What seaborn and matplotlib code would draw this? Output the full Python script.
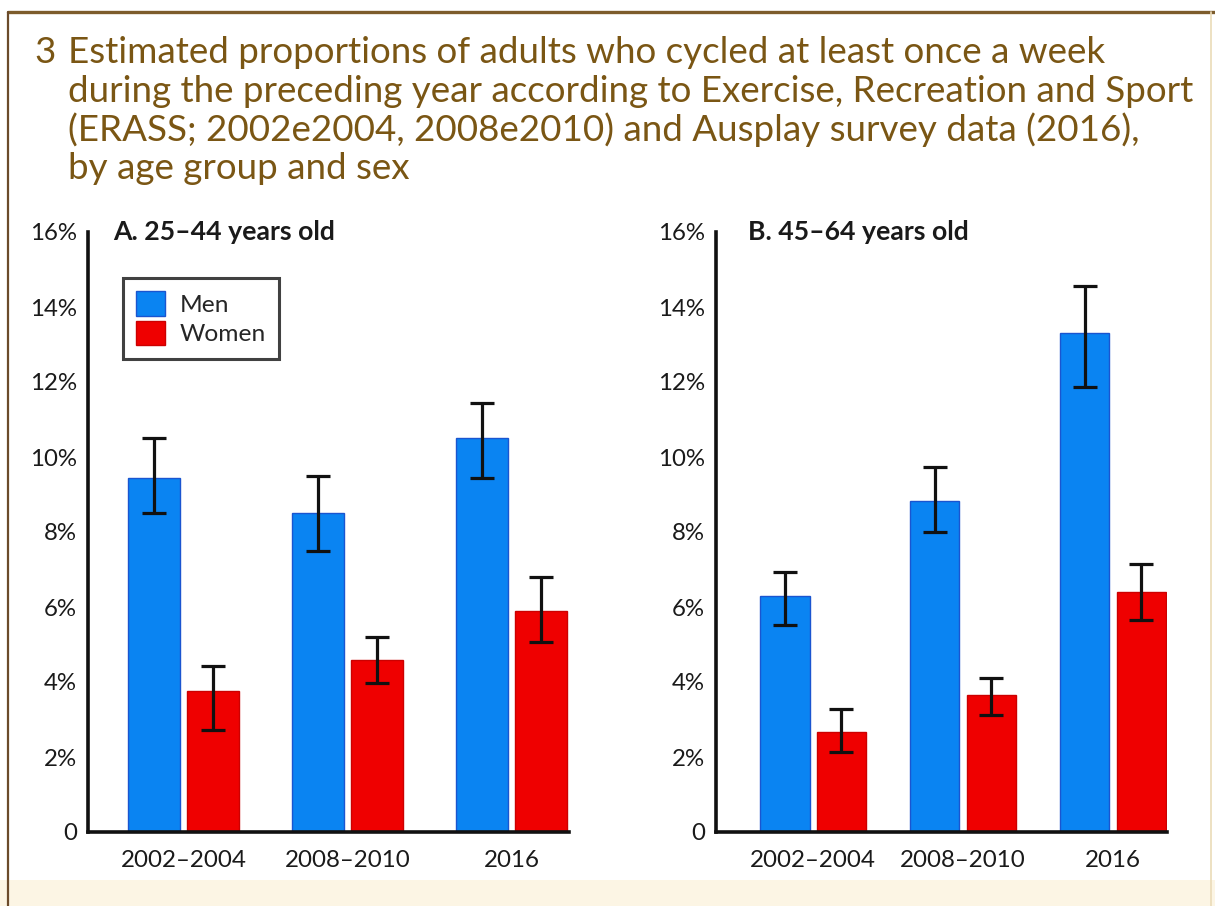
import matplotlib
matplotlib.use("Agg")
import matplotlib.pyplot as plt
import seaborn as sns
import pandas as pd
from matplotlib import font_manager as fm
from matplotlib.patches import Rectangle, Patch
from matplotlib.lines import Line2D
from matplotlib.container import BarContainer

# ---------------- data ----------------
periods = ["2002–2004", "2008–2010", "2016"]
sexes = ["Men", "Women"]

a_men = [9.45, 8.5, 10.5]
a_men_lo = [8.5, 7.5, 9.45]
a_men_hi = [10.5, 9.5, 11.45]
a_women = [3.75, 4.6, 5.9]
a_women_lo = [2.72, 3.97, 5.07]
a_women_hi = [4.43, 5.2, 6.8]

b_men = [6.3, 8.83, 13.3]
b_men_lo = [5.52, 8.0, 11.87]
b_men_hi = [6.94, 9.73, 14.56]
b_women = [2.67, 3.65, 6.4]
b_women_lo = [2.13, 3.12, 5.65]
b_women_hi = [3.28, 4.11, 7.15]

yticks = [0, 2, 4, 6, 8, 10, 12, 14, 16]
ytick_labels = ["0", "2%", "4%", "6%", "8%", "10%", "12%", "14%", "16%"]

panel_titles = ["A. 25–44 years old", "B. 45–64 years old"]
title_number = "3"
title_lines = [
    "Estimated proportions of adults who cycled at least once a week",
    "during the preceding year according to Exercise, Recreation and Sport",
    "(ERASS; 2002e2004, 2008e2010) and Ausplay survey data (2016),",
    "by age group and sex",
]

# ---------------- style ----------------
sns.set_style("white")


def pick(cands):
    for c in cands:
        try:
            fm.findfont(fm.FontProperties(family=c), fallback_to_default=False)
            return c
        except Exception:
            pass
    return "DejaVu Sans"


FONT = pick(["Lato", "Roboto", "Open Sans", "DejaVu Sans"])
plt.rcParams["font.family"] = [FONT, "DejaVu Sans"]

BLUE = "#0a84f2"
BLUE_EDGE = "#1a55d0"
RED = "#ef0000"
RED_EDGE = "#cc0000"
TITLE_COLOR = "#7a5614"
TXT = "#1a1a1a"

W, H = 1215, 906
fig = plt.figure(figsize=(W / 100, H / 100), dpi=100)
fig.patch.set_facecolor("white")
renderer = fig.canvas.get_renderer()


def fx(px):
    return px / W


def fy(py):
    return 1 - py / H


def fit(text, target_px, weight="normal"):
    t = fig.text(0, 0, text, fontsize=20, fontweight=weight)
    w = t.get_window_extent(renderer).width
    t.remove()
    return 20 * target_px / w


# decorative frame
fig.add_artist(Rectangle((0, 0), 1, fy(880), transform=fig.transFigure,
                         facecolor="#fcf5e4", edgecolor="none", zorder=0))
fig.add_artist(Line2D([fx(8), 1], [fy(12), fy(12)], transform=fig.transFigure,
                      color="#7d5c2c", lw=2.4))
fig.add_artist(Line2D([fx(8), fx(8)], [fy(12), 0], transform=fig.transFigure,
                      color="#6b4b2b", lw=1.6))
fig.add_artist(Line2D([fx(1211), fx(1211)], [fy(12), 0], transform=fig.transFigure,
                      color="#eadbb8", lw=1.2))

# title
tfs = fit(title_lines[1], 1127)
baselines = [63, 102, 141, 179]
fig.text(fx(34), fy(baselines[0]), title_number, fontsize=tfs, color=TITLE_COLOR, va="baseline")
for line, b in zip(title_lines, baselines):
    fig.text(fx(68), fy(b), line, fontsize=tfs, color=TITLE_COLOR, va="baseline")

tick_fs = fit("2002–2004", 126)
ytick_fs = fit("16%", 47)
ptitle_fs = fit(panel_titles[0], 222, "bold")
leg_fs = fit("Women", 86)

panels = [
    dict(men=a_men, men_lo=a_men_lo, men_hi=a_men_hi,
         women=a_women, women_lo=a_women_lo, women_hi=a_women_hi,
         x0=88, x1=569, left=0.585, right=0.348, title_x=113, width=0.72, gap=0.12),
    dict(men=b_men, men_lo=b_men_lo, men_hi=b_men_hi,
         women=b_women, women_lo=b_women_lo, women_hi=b_women_hi,
         x0=716, x1=1167, left=0.647, right=0.36, title_x=748, width=0.748, gap=0.126),
]

for i, p in enumerate(panels):
    ax = fig.add_axes([fx(p["x0"]), fy(832), fx(p["x1"] - p["x0"]), fy(232) - fy(832)])
    ax.set_facecolor("none")
    df = pd.DataFrame({
        "period": periods * 2,
        "sex": [sexes[0]] * 3 + [sexes[1]] * 3,
        "value": p["men"] + p["women"],
    })
    sns.barplot(data=df, x="period", y="value", hue="sex", order=periods,
                hue_order=sexes, palette=[BLUE, RED], errorbar=None,
                width=p["width"], gap=p["gap"], saturation=1, ax=ax, zorder=2)
    edges = [BLUE_EDGE, RED_EDGE]
    bar_conts = [c for c in ax.containers if isinstance(c, BarContainer)][:2]
    for k, cont in enumerate(bar_conts):
        vals = [p["men"], p["women"]][k]
        los = [p["men_lo"], p["women_lo"]][k]
        his = [p["men_hi"], p["women_hi"]][k]
        xs = []
        for bar in cont:
            bar.set_edgecolor(edges[k])
            bar.set_linewidth(1.0)
            xs.append(bar.get_x() + bar.get_width() / 2)
        ax.errorbar(xs, vals,
                    yerr=[[v - l for v, l in zip(vals, los)], [h - v for v, h in zip(vals, his)]],
                    fmt="none", ecolor="#111111", elinewidth=2.3, capsize=8.5,
                    capthick=2.3, zorder=3)
    ax.set_xlim(-p["left"], 2 + p["right"])
    ax.set_ylim(0, 16)
    ax.set_yticks(yticks)
    ax.set_yticklabels(ytick_labels)
    ax.set_xlabel("")
    ax.set_ylabel("")
    for s in ["top", "right"]:
        ax.spines[s].set_visible(False)
    for s in ["left", "bottom"]:
        ax.spines[s].set_color("#111111")
        ax.spines[s].set_linewidth(2.6)
        ax.spines[s].set_zorder(4)
    ax.tick_params(axis="y", direction="in", length=10, width=2.4, color="#111111",
                   labelsize=ytick_fs, labelcolor=TXT, pad=8)
    ax.tick_params(axis="x", length=0, labelsize=tick_fs, labelcolor=TXT, pad=13)
    ax.text((p["title_x"] - p["x0"]) / (p["x1"] - p["x0"]), 1.0, panel_titles[i],
            transform=ax.transAxes, fontsize=ptitle_fs, fontweight="bold", color=TXT,
            va="center", ha="left")
    if i == 0:
        handles = [Patch(facecolor=BLUE, edgecolor=BLUE_EDGE, lw=1.0),
                   Patch(facecolor=RED, edgecolor=RED_EDGE, lw=1.0)]
        leg = ax.legend(handles, sexes, loc="upper left",
                        bbox_to_anchor=((123 - 88) / (569 - 88), (832 - 278) / 600),
                        fontsize=leg_fs, frameon=True, fancybox=False,
                        handlelength=1.15, handleheight=1.15, handletextpad=0.6,
                        labelspacing=0.2, borderpad=0.55, borderaxespad=0)
        leg.get_frame().set_edgecolor("#111111")
        leg.get_frame().set_linewidth(2.2)
    else:
        lg = ax.get_legend()
        if lg is not None:
            lg.remove()

fig.savefig("out.png", dpi=100, facecolor=fig.get_facecolor())
